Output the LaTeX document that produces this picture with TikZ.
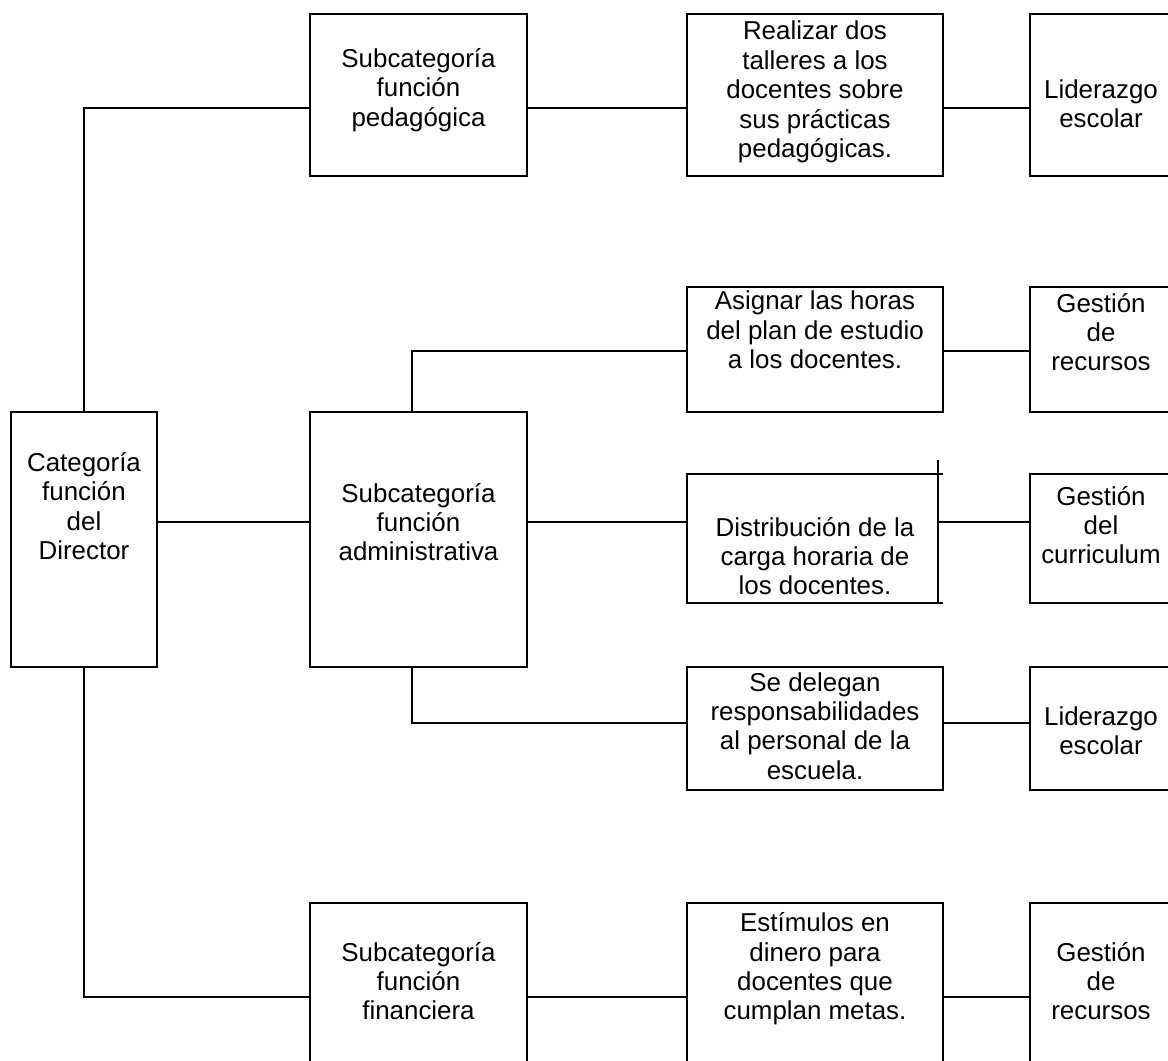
\documentclass[tikz,border=0pt]{standalone}
\usepackage{fontspec}
\setmainfont{Liberation Sans}
\begin{document}
\begin{tikzpicture}[x=1bp,y=-1bp,
  box/.style={draw, line width=2bp, inner sep=0pt, outer sep=0pt},
  frame/.style={inner sep=0pt, outer sep=0pt},
  txt/.style={align=center, inner sep=0pt, font=\fontsize{26}{29.5}\selectfont},
  link/.style={line width=2bp}]
\useasboundingbox (0,0) rectangle (1168,1061);
\clip (0,0) rectangle (1168,1061);

% row heights of the connectors
\coordinate (row1) at (0,108);
\coordinate (row2) at (0,351);
\coordinate (row3) at (0,522);
\coordinate (row4) at (0,723);
\coordinate (row5) at (0,997);
\coordinate (tap) at (412,0);

% main category
\node[box, minimum width=146bp, minimum height=255bp] (cat) at (84,539.5) {};
\node[txt] (catT) at (84,506) {Categoría\\función\\del\\Director};

% subcategories
\node[box, minimum width=217bp, minimum height=162bp] (ped) at (418.5,95) {};
\node[txt] (pedT) at (418.5,90) {Subcategoría\\función\\pedagógica};
\node[box, minimum width=217bp, minimum height=255bp] (adm) at (418.5,539.5) {};
\node[txt] (admT) at (418.5,522) {Subcategoría\\función\\administrativa};
\node[box, minimum width=217bp, minimum height=188bp] (fin) at (418.5,997) {};
\node[txt] (finT) at (418.5,981) {Subcategoría\\función\\financiera};

% actions
\node[box, minimum width=256bp, minimum height=162bp] (tal) at (815,95) {};
\node[txt] (talT) at (815,92) {Realizar dos\\talleres a los\\docentes sobre\\sus prácticas\\pedagógicas.};
\node[box, minimum width=256bp, minimum height=125bp] (asg) at (815,349.5) {};
\node[txt] (asgT) at (815,330) {Asignar las horas\\del plan de estudio\\a los docentes.};
\node[frame, minimum width=251bp, minimum height=129bp] (dis) at (812.5,538.5) {};
\draw[link] ([xshift=5bp]dis.north east) -- (dis.north west) -- (dis.south west) -- ([xshift=5bp]dis.south east);
\draw[link] ([yshift=14bp]dis.north east) -- (dis.south east);
\node[txt] (disT) at (815,556) {Distribución de la\\carga horaria de\\los docentes.};
\node[box, minimum width=256bp, minimum height=123bp] (del) at (815,728.5) {};
\node[txt] (delT) at (815,726) {Se delegan\\responsabilidades\\al personal de la\\escuela.};
\node[box, minimum width=256bp, minimum height=188bp] (est) at (815,997) {};
\node[txt] (estT) at (815,969) {Estímulos en\\dinero para\\docentes que\\cumplan metas.};

% dimensions
\node[box, minimum width=142bp, minimum height=162bp] (r1) at (1101,95) {};
\node[txt] (r1T) at (1101,104) {Liderazgo\\escolar};
\node[box, minimum width=142bp, minimum height=125bp] (r2) at (1101,349.5) {};
\node[txt] (r2T) at (1101,332) {Gestión\\de\\recursos};
\node[box, minimum width=142bp, minimum height=129bp] (r3) at (1101,538.5) {};
\node[txt] (r3T) at (1101,525) {Gestión\\del\\curriculum};
\node[box, minimum width=142bp, minimum height=123bp] (r4) at (1101,728.5) {};
\node[txt] (r4T) at (1101,731) {Liderazgo\\escolar};
\node[box, minimum width=142bp, minimum height=188bp] (r5) at (1101,997) {};
\node[txt] (r5T) at (1101,981) {Gestión\\de\\recursos};

% connectors
\draw[link] (cat.north) |- (ped.west |- row1);
\draw[link] (cat.south) |- (fin.west |- row5);
\draw[link] (cat.east |- row3) -- (adm.west |- row3);
\draw[link] (ped.east |- row1) -- (tal.west |- row1);
\draw[link] (tal.east |- row1) -- (r1.west |- row1);
\draw[link] (tap |- adm.north) |- (asg.west |- row2);
\draw[link] (asg.east |- row2) -- (r2.west |- row2);
\draw[link] (adm.east |- row3) -- (dis.west |- row3);
\draw[link] (dis.east |- row3) -- (r3.west |- row3);
\draw[link] (tap |- adm.south) |- (del.west |- row4);
\draw[link] (del.east |- row4) -- (r4.west |- row4);
\draw[link] (fin.east |- row5) -- (est.west |- row5);
\draw[link] (est.east |- row5) -- (r5.west |- row5);
\end{tikzpicture}
\end{document}
